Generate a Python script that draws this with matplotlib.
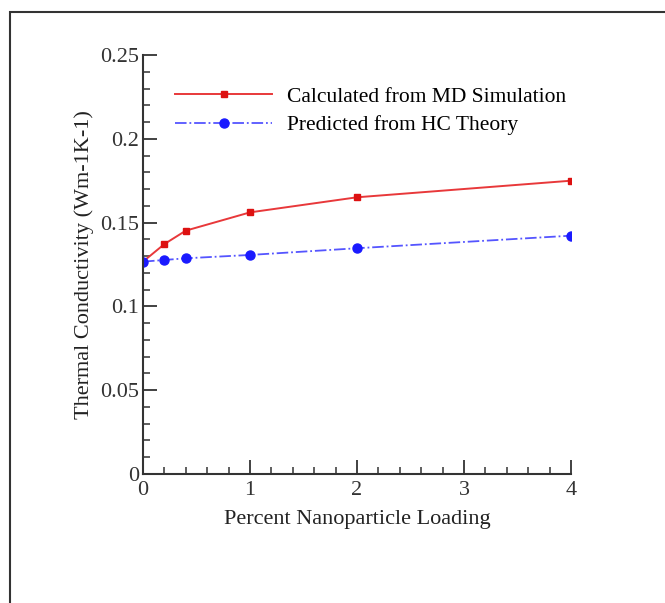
import matplotlib.pyplot as plt
from matplotlib.patches import Rectangle
from matplotlib.ticker import MultipleLocator

loading = [0, 0.2, 0.4, 1, 2, 4]
md_sim = [0.1267, 0.1372, 0.1452, 0.1561, 0.1651, 0.1750]
hc_theory = [0.1267, 0.1277, 0.1287, 0.1307, 0.1347, 0.1422]

plt.rcParams['font.family'] = ['Liberation Serif', 'DejaVu Serif']

fig = plt.figure(figsize=(6.65, 6.03), dpi=100)
ax = fig.add_axes([143 / 665, 1 - 474 / 603, (571 - 143) / 665, (474 - 55) / 603])

# outer frame
fig.patches.append(Rectangle((10 / 665, -0.05), 1.1, 1 - 12 / 603 + 0.05,
                             transform=fig.transFigure, fill=False,
                             edgecolor='#333333', linewidth=1.5))

ax.plot(loading, md_sim, color='#e8383a', linewidth=1.4, marker='s',
        markersize=4.5, markerfacecolor='#dd1111', markeredgecolor='#dd1111',
        label='Calculated from MD Simulation')
ax.plot(loading, hc_theory, color='#5555ff', linewidth=1.3, linestyle='-.',
        marker='o', markersize=6.5, markerfacecolor='#1a1aff', markeredgecolor='#1a1aff',
        label='Predicted from HC Theory')

ax.set_xlim(0, 4)
ax.set_ylim(0, 0.25)
ax.xaxis.set_major_locator(MultipleLocator(1))
ax.xaxis.set_minor_locator(MultipleLocator(0.2))
ax.yaxis.set_minor_locator(MultipleLocator(0.01))
ax.set_yticks([0, 0.05, 0.1, 0.15, 0.2, 0.25])
ax.set_yticklabels(['0', '0.05', '0.1', '0.15', '0.2', '0.25'])

for s in ['top', 'right']:
    ax.spines[s].set_visible(False)
for s in ['left', 'bottom']:
    ax.spines[s].set_linewidth(1.5)
    ax.spines[s].set_color('#333333')

ax.tick_params(which='major', direction='in', length=10, width=1.3,
               labelsize=16, colors='#333333', pad=3)
ax.tick_params(which='minor', direction='in', length=5, width=1.1, colors='#333333')
ax.tick_params(axis='x', pad=5)

ax.set_xlabel('Percent Nanoparticle Loading', fontsize=16, color='#222222', labelpad=7)
ax.set_ylabel('Thermal Conductivity (Wm-1K-1)', fontsize=16, color='#222222', labelpad=4)

ax.legend(loc='upper left', bbox_to_anchor=(0.055, 0.945), frameon=False,
          fontsize=15.5, handlelength=4.5, handletextpad=0.7, labelspacing=0.4,
          borderaxespad=0)

fig.savefig('out.png', dpi=100)
